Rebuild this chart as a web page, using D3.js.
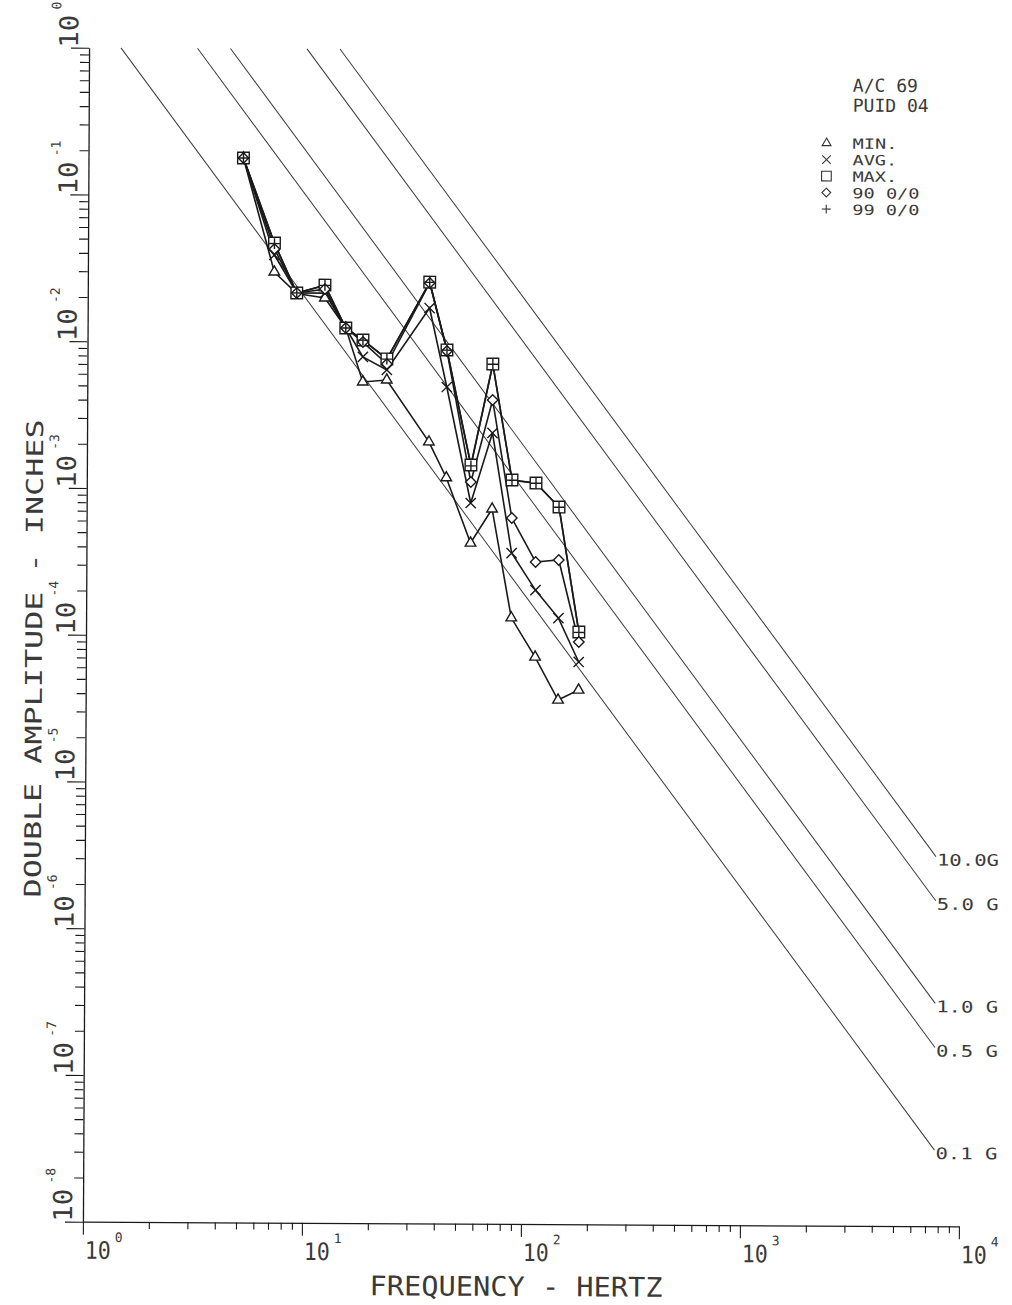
<!DOCTYPE html>
<html>
<head>
<meta charset="utf-8">
<script src="https://cdn.jsdelivr.net/npm/d3@7"></script>
<style>
  body { margin: 0; background: #fff; }
  svg { display: block; }
  text { font-family: "DejaVu Sans Mono", monospace; fill: #3a3a3a; }
</style>
</head>
<body>
<div id="chart"></div>
<script>
// Frequencies (Hz) of the measured bands
const freqs = [5.1, 7.1, 9.0, 12.1, 15.1, 18.1, 23.3, 36.4, 43.8, 56.7, 71.0, 87.4, 112.5, 143.5, 178];

// Double amplitude (inches) per series
const minVals = [0.1795, 0.0301, 0.0215, 0.0201, 0.01257, 0.0054, 0.00558, 0.00212, 0.00121, 0.000435, 0.000744, 0.000135, 0.0000731, 0.0000373, 0.0000437];
const avgVals = [0.1795, 0.0393, 0.0217, 0.0217, 0.01257, 0.0080, 0.00653, 0.01732, 0.00502, 0.000815, 0.00245, 0.000373, 0.000209, 0.000135, 0.0000679];
const maxVals = [0.1795, 0.0474, 0.0217, 0.0246, 0.01257, 0.01043, 0.00776, 0.0260, 0.00898, 0.00148, 0.00723, 0.001174, 0.001121, 0.000771, 0.0001087];
const p90Vals = [0.1795, 0.0432, 0.0217, 0.0231, 0.01257, 0.0101, 0.00717, 0.02565, 0.00884, 0.001133, 0.00411, 0.000646, 0.000325, 0.000336, 0.0000929];
const p99Vals = [0.1795, 0.0470, 0.0217, 0.0245, 0.01257, 0.01040, 0.00774, 0.0259, 0.00895, 0.00146, 0.00720, 0.001170, 0.001118, 0.000768, 0.0001080];

// Constant acceleration reference lines
const gLevels = [10, 5, 1, 0.5, 0.1];
const gLabels = ["10.0G", "5.0 G", "1.0 G", "0.5 G", "0.1 G"];

// Axis decades
const xTickExps = [0, 1, 2, 3, 4];
const yTickExps = [0, -1, -2, -3, -4, -5, -6, -7, -8];

const headerLines = ["A/C 69", "PUID 04"];
const legendLabels = ["MIN.", "AVG.", "MAX.", "90 0/0", "99 0/0"];

const width = 1012, height = 1305;
const ink = "#1a1a1a";

const svg = d3.select("#chart").append("svg")
    .attr("width", width)
    .attr("height", height);

// the scanned sheet sits slightly rotated
const g = svg.append("g").attr("transform", "rotate(0.3,520,636)");

const x = d3.scaleLog().domain([1, 1e4]).range([86, 962]);
const y = d3.scaleLog().domain([1e-8, 1]).range([1224, 50]);

const isMajor = d => Math.abs(Math.log10(d) - Math.round(Math.log10(d))) < 1e-6;

// log ticks 1..9 per decade
function logTicks(lo, hi) {
    const t = [];
    for (let e = lo; e < hi; e++) {
        for (let m = 1; m < 10; m++) t.push(m * Math.pow(10, e));
    }
    t.push(Math.pow(10, hi));
    return t;
}

// ---- axes ----
const yAxis = g.append("g")
    .attr("transform", `translate(${x(1)},0)`)
    .call(d3.axisLeft(y).tickValues(logTicks(-8, 0)).tickFormat("").tickSizeOuter(0));
yAxis.select(".domain").attr("stroke", ink).attr("stroke-width", 1.3);
yAxis.selectAll(".tick line")
    .attr("stroke", ink).attr("stroke-width", 1.1)
    .attr("x2", d => isMajor(d) ? -18 : -9);

const xAxis = g.append("g")
    .attr("transform", `translate(0,${y(1e-8)})`)
    .call(d3.axisBottom(x).tickValues(logTicks(0, 4)).tickFormat("").tickSizeOuter(0));
xAxis.select(".domain").attr("stroke", ink).attr("stroke-width", 1.3);
xAxis.selectAll(".tick line")
    .attr("stroke", ink).attr("stroke-width", 1.1)
    .attr("y2", d => isMajor(d) ? 13 : 7);

// x tick labels: 10 with superscript exponent
xTickExps.forEach(e => {
    const px = x(Math.pow(10, e));
    g.append("text").attr("x", px + 2).attr("y", y(1e-8) + 37)
        .attr("font-size", 24).attr("textLength", 26).attr("lengthAdjust", "spacingAndGlyphs")
        .text("10");
    g.append("text").attr("x", px + 32).attr("y", y(1e-8) + 20)
        .attr("font-size", 13)
        .text(e);
});

// y tick labels, rotated
yTickExps.forEach(e => {
    const py = y(Math.pow(10, e));
    g.append("text")
        .attr("transform", `translate(75,${py}) rotate(-90)`)
        .attr("font-size", 26).attr("textLength", 33).attr("lengthAdjust", "spacingAndGlyphs")
        .text("10");
    g.append("text")
        .attr("transform", `translate(58,${py - 38}) rotate(-90)`)
        .attr("font-size", 13)
        .text(e === 0 ? "0" : "-" + Math.abs(e));
});

// axis titles
g.append("text").attr("x", 373).attr("y", 1296)
    .attr("font-size", 27).attr("textLength", 293).attr("lengthAdjust", "spacingAndGlyphs")
    .text("FREQUENCY - HERTZ");

g.append("text")
    .attr("transform", "translate(42,661) rotate(-90)")
    .attr("text-anchor", "middle")
    .attr("font-size", 23).attr("textLength", 478).attr("lengthAdjust", "spacingAndGlyphs")
    .text("DOUBLE AMPLITUDE - INCHES");

// ---- constant-G lines: D = 2a/(2*pi*f)^2, a in in/s^2 ----
const gAcc = 386.09;
const fEnd = 7700;
const refLine = d3.line().x(d => x(d[0])).y(d => y(d[1]));
gLevels.forEach((G, i) => {
    const k = 2 * G * gAcc / (4 * Math.PI * Math.PI);
    const pts = [[Math.sqrt(k), 1], [fEnd, k / (fEnd * fEnd)]];
    g.append("path")
        .attr("d", refLine(pts))
        .attr("fill", "none")
        .attr("stroke", "#3c3c3c")
        .attr("stroke-width", 1);
    g.append("text")
        .attr("x", x(fEnd) + 1)
        .attr("y", y(pts[1][1]) + 9)
        .attr("font-size", 16).attr("textLength", 62).attr("lengthAdjust", "spacingAndGlyphs")
        .attr("fill", "#555")
        .text(gLabels[i]);
});

// ---- data series ----
const series = [
    { vals: minVals, type: d3.symbolTriangle2, size: 80, fill: "#fff" },
    { vals: avgVals, type: d3.symbolTimes, size: 70, fill: "none" },
    { vals: maxVals, type: d3.symbolSquare2, size: 170, fill: "#fff" },
    { vals: p90Vals, type: d3.symbolDiamond2, size: 70, fill: "#fff" },
    { vals: p99Vals, type: d3.symbolPlus, size: 40, fill: "none" }
];

const dataLine = d3.line().x((d, i) => x(freqs[i])).y(d => y(d));

series.forEach(s => {
    g.append("path")
        .attr("d", dataLine(s.vals))
        .attr("fill", "none")
        .attr("stroke", ink)
        .attr("stroke-width", 1.6);
});

series.forEach(s => {
    g.append("g").selectAll("path")
        .data(s.vals)
        .enter().append("path")
        .attr("transform", (d, i) => `translate(${x(freqs[i])},${y(d)})`)
        .attr("d", d3.symbol().type(s.type).size(s.size))
        .attr("fill", s.fill)
        .attr("stroke", ink)
        .attr("stroke-width", 1.4);
});

// ---- legend ----
headerLines.forEach((t, i) => {
    g.append("text").attr("x", 850).attr("y", 90 + i * 20)
        .attr("font-size", 18).text(t);
});

legendLabels.forEach((t, i) => {
    const cy = 141.5 + i * 16.5;
    g.append("path")
        .attr("transform", `translate(824,${cy})`)
        .attr("d", d3.symbol().type(series[i].type).size(series[i].size * 0.7))
        .attr("fill", series[i].fill)
        .attr("stroke", "#333")
        .attr("stroke-width", 1.1);
    g.append("text").attr("x", 850).attr("y", cy + 5.5)
        .attr("font-size", 14).attr("textLength", t.length * 11.2).attr("lengthAdjust", "spacingAndGlyphs")
        .text(t);
});
</script>
</body>
</html>
